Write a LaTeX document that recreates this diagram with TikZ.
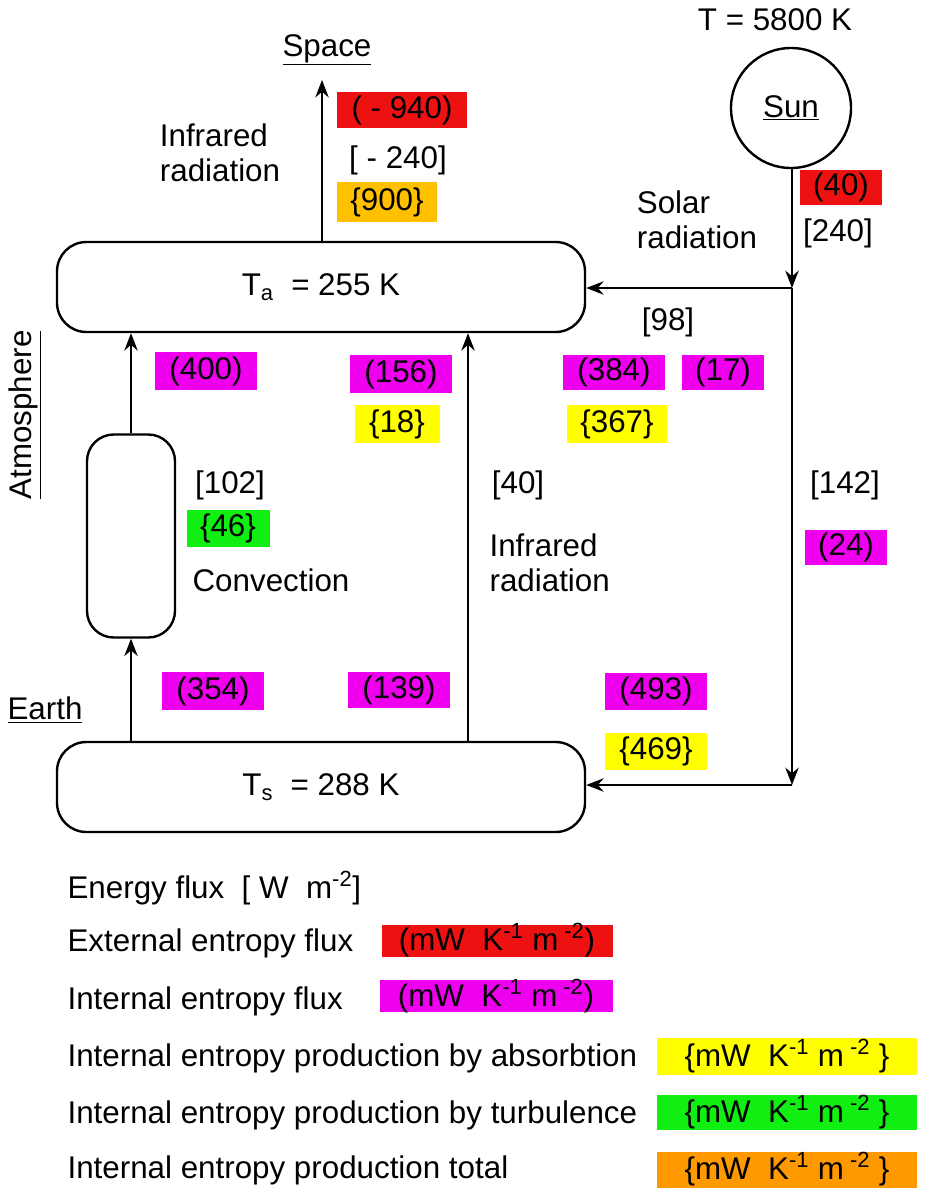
\documentclass[tikz,border=0pt]{standalone}
\usepackage{fontspec}
\setmainfont{Liberation Sans}
\usetikzlibrary{arrows.meta}
\definecolor{cred}{HTML}{EE1111}
\definecolor{cmag}{HTML}{EE00EE}
\definecolor{cyel}{HTML}{FFFF00}
\definecolor{cgrn}{HTML}{11EE11}
\definecolor{corg}{HTML}{FFC000}
\definecolor{corg2}{HTML}{FF9900}
\begin{document}
\begin{tikzpicture}[x=0.75pt,y=-0.75pt,
  every node/.style={font=\fontsize{23.5}{26}\selectfont,inner sep=1pt},
  arr/.style={line width=1.8pt,-{Stealth[length=13pt,width=10pt]}},
  box/.style={draw,line width=1.8pt,rounded corners=22pt},
  lbl/.style={align=left}]
\path[fill=white] (0,0) rectangle (925,1200);
\useasboundingbox (0,0) rectangle (925,1200);
% boxes
\node[box,minimum width=528*0.75pt,minimum height=90*0.75pt] (ta) at (321,287) {T\textsubscript{a}\ \ = 255 K};
\node[box,minimum width=528*0.75pt,minimum height=90*0.75pt] (ts) at (321,787) {T\textsubscript{s}\ \ = 288 K};
\node[box,minimum width=88*0.75pt,minimum height=203*0.75pt,rounded corners=20pt] (cv) at (131,536) {};
\node[draw,circle,line width=1.8pt,minimum size=120*0.75pt] (sun) at (791,108) {\underline{Sun}};
\node (tsun) at (775,20) {T = 5800 K};
\node (space) at (327,50) {\underline{Space}};
\node[rotate=90] (atm) at (25,415) {\underline{Atmosphere}};
\node (earth) at (45,710) {\underline{Earth}};
\coordinate (j1) at (792,288);
\coordinate (j2) at (792,785);
\coordinate (spt) at (322,80);
% connectors
\draw[arr] (ta.north -| spt) -- (spt);
\draw[arr] (sun.south -| j1) -- (j1);
\draw[line width=1.8pt] (j1) -- ++(0,4);
\draw[arr] (j1) -- (j1 -| ta.east);
\draw[arr] (j1) -- (j2);
\draw[arr] (j2) -- (j2 -| ts.east);
\draw[arr] (cv.north) -- (cv.north |- ta.south);
\draw[arr] (ts.north -| cv.south) -- (cv.south);
\coordinate (ir) at (468,0);
\draw[arr] (ts.north -| ir) -- (ta.south -| ir);
% labels
\node[lbl] (l1) at (220,153) {Infrared\\radiation};
\node[lbl] (l2) at (697,220) {Solar\\radiation};
\node (l3) at (398,160) {[ - 240]};
\node (l4) at (838,233) {[240]};
\node (l5) at (668,322) {[98]};
\node (l6) at (230,485) {[102]};
\node (l7) at (271,580) {Convection};
\node (l8) at (518,485) {[40]};
\node[lbl,anchor=west] (l9) at (488,563) {Infrared\\radiation};
\node (l10) at (845,485) {[142]};
% coloured tags
\fill[cred] (337,92) rectangle (467,128); \node (c1) at (402,110) {( - 940)};
\fill[corg] (337,182) rectangle (437,222); \node (c2) at (387,202) {\{900\}};
\fill[cred] (800,170) rectangle (882,205); \node (c3) at (841,187) {(40)};
\fill[cmag] (155,352) rectangle (257,390); \node (c4) at (206,371) {(400)};
\fill[cmag] (350,355) rectangle (452,393); \node (c5) at (401,374) {(156)};
\fill[cmag] (563,355) rectangle (665,390); \node (c6) at (614,372) {(384)};
\fill[cmag] (682,355) rectangle (764,390); \node (c7) at (723,372) {(17)};
\fill[cyel] (355,405) rectangle (440,443); \node (c8) at (397,424) {\{18\}};
\fill[cyel] (567,405) rectangle (667,443); \node (c9) at (617,424) {\{367\}};
\fill[cgrn] (187,510) rectangle (270,547); \node (c10) at (228,528) {\{46\}};
\fill[cmag] (805,530) rectangle (887,565); \node (c11) at (846,547) {(24)};
\fill[cmag] (162,672) rectangle (264,710); \node (c12) at (213,691) {(354)};
\fill[cmag] (348,672) rectangle (450,708); \node (c13) at (399,690) {(139)};
\fill[cmag] (605,673) rectangle (707,710); \node (c14) at (656,691) {(493)};
\fill[cyel] (605,733) rectangle (707,770); \node (c15) at (656,751) {\{469\}};
% legend
\node[anchor=west] (g1) at (66,888) {Energy flux\ \ [ W\ \ m\textsuperscript{-2}]};
\node[anchor=west] (g2) at (66,943) {External entropy flux};
\fill[cred] (382,925) rectangle (613,957); \node (g2b) at (497,940) {(mW\ \ K\textsuperscript{-1} m\textsuperscript{ -2})};
\node[anchor=west] (g3) at (66,1001) {Internal entropy flux};
\fill[cmag] (380,980) rectangle (613,1012); \node (g3b) at (496,996) {(mW\ \ K\textsuperscript{-1} m\textsuperscript{ -2})};
\node[anchor=west] (g4) at (66,1058) {Internal entropy production by absorbtion};
\fill[cyel] (657,1038) rectangle (917,1075); \node (g4b) at (787,1056) {\{mW\ \ K\textsuperscript{-1} m\textsuperscript{ -2} \}};
\node[anchor=west] (g5) at (66,1115) {Internal entropy production by turbulence};
\fill[cgrn] (657,1095) rectangle (917,1130); \node (g5b) at (787,1112) {\{mW\ \ K\textsuperscript{-1} m\textsuperscript{ -2} \}};
\node[anchor=west] (g6) at (66,1170) {Internal entropy production total};
\fill[corg2] (657,1152) rectangle (917,1188); \node (g6b) at (787,1169) {\{mW\ \ K\textsuperscript{-1} m\textsuperscript{ -2} \}};
\end{tikzpicture}
\end{document}
